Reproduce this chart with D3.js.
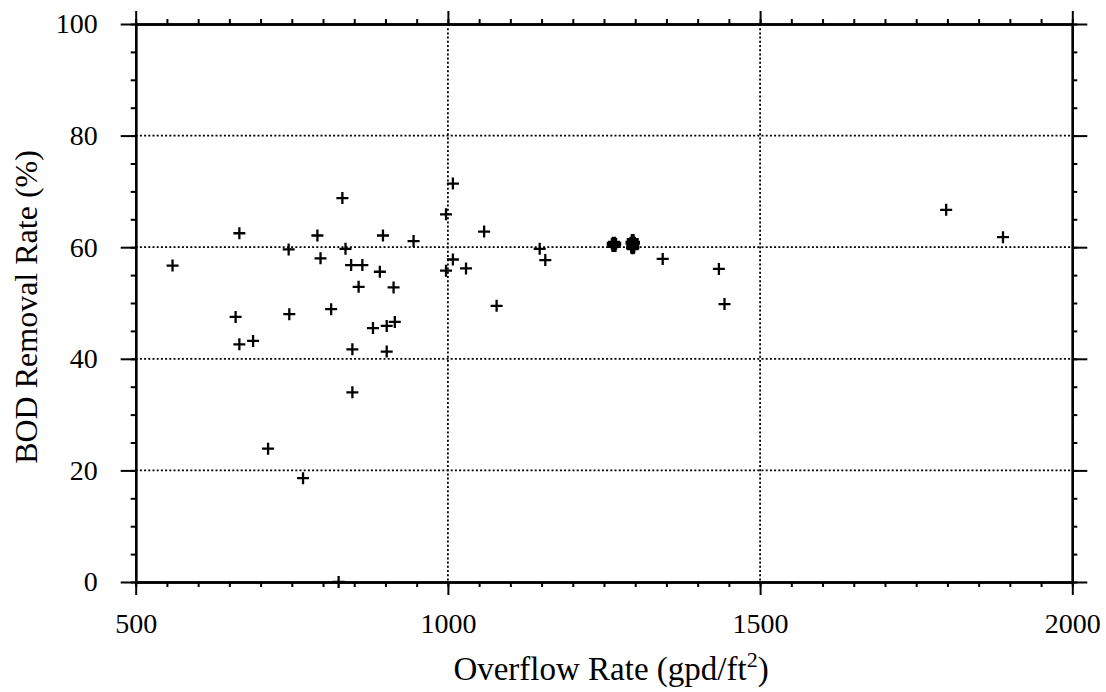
<!DOCTYPE html>
<html>
<head>
<meta charset="utf-8">
<script src="https://cdn.jsdelivr.net/npm/d3@7"></script>
<style>
  html, body { margin: 0; padding: 0; background: #fff; }
  svg { display: block; }
  text { font-family: "Liberation Serif", "Times New Roman", serif; fill: #000; }
</style>
</head>
<body>
<svg id="chart" width="1106" height="692"></svg>
<script>
// ---- data ----
const overflowRate = [559, 660, 666, 666, 688, 712, 745, 746, 768, 791, 796, 813, 825, 831, 836, 845, 847, 847,
  857, 863, 880, 891, 896, 902, 902, 913, 915, 945, 997, 997, 1008, 1008, 1029, 1058, 1078, 1147, 1156,
  1344, 1434, 1443, 1798, 1889];
const bodRemoval = [56.7, 47.5, 62.5, 42.6, 43.2, 23.9, 59.6, 48.0, 18.6, 62.1, 58.0, 48.9, 0, 68.8, 59.7, 56.8, 41.7, 34.0,
  52.9, 56.8, 45.5, 55.6, 62.1, 45.9, 41.3, 52.8, 46.6, 61.1, 65.9, 55.8, 71.4, 57.8, 56.2, 62.8, 49.5, 59.7, 57.7,
  57.9, 56.1, 49.8, 66.7, 61.8];
// dense overlapping observations around 1265 and 1296 gpd/ft2 (appear as solid blobs)
const clusterRate = [1264, 1266, 1268, 1265, 1267, 1266, 1294, 1296, 1298, 1295, 1297, 1296, 1296];
const clusterRemoval = [60.6, 60.8, 60.6, 60.2, 60.2, 60.4, 60.8, 61.3, 60.8, 60.0, 60.0, 59.8, 60.5];
const xMajorTicks = [500, 1000, 1500, 2000];
const yMajorTicks = [0, 20, 40, 60, 80, 100];
const xGrid = [1000, 1500];
const yGrid = [20, 40, 60, 80];
const xTitle = "Overflow Rate (gpd/ft";
const yTitle = "BOD Removal Rate (%)";

// ---- layout ----
const L = 135.7, R = 1072.3, T = 24, B = 582;
const svg = d3.select("#chart");
const x = d3.scaleLinear().domain([500, 2000]).range([L, R]);
const y = d3.scaleLinear().domain([0, 100]).range([B, T]);
const xMinor = d3.range(500, 2001, 50);
const yMinor = d3.range(0, 101, 5);

// gridlines
const g = svg.append("g");
g.selectAll(".gx").data(xGrid).enter().append("line")
  .attr("x1", d => x(d)).attr("x2", d => x(d)).attr("y1", T).attr("y2", B)
  .attr("stroke", "#000").attr("stroke-width", 1.8).attr("stroke-dasharray", "2,2.2");
g.selectAll(".gy").data(yGrid).enter().append("line")
  .attr("x1", L).attr("x2", R).attr("y1", d => y(d)).attr("y2", d => y(d))
  .attr("stroke", "#000").attr("stroke-width", 1.8).attr("stroke-dasharray", "2,2.2");

function styleAxis(sel) {
  sel.selectAll("path.domain").attr("stroke", "#000").attr("stroke-width", 2.4);
  sel.selectAll(".tick line").attr("stroke", "#000").attr("stroke-width", 2);
}

// minor ticks
styleAxis(svg.append("g").attr("transform", `translate(0,${B})`)
  .call(d3.axisBottom(x).tickValues(xMinor).tickSize(5).tickSizeOuter(0).tickFormat("")));
styleAxis(svg.append("g").attr("transform", `translate(0,${T})`)
  .call(d3.axisTop(x).tickValues(xMinor).tickSize(5).tickSizeOuter(0).tickFormat("")));
styleAxis(svg.append("g").attr("transform", `translate(${L},0)`)
  .call(d3.axisLeft(y).tickValues(yMinor).tickSize(5).tickSizeOuter(0).tickFormat("")));
styleAxis(svg.append("g").attr("transform", `translate(${R},0)`)
  .call(d3.axisRight(y).tickValues(yMinor).tickSize(5).tickSizeOuter(0).tickFormat("")));

// major ticks
const xb = svg.append("g").attr("transform", `translate(0,${B})`)
  .call(d3.axisBottom(x).tickValues(xMajorTicks).tickSize(13).tickSizeOuter(0).tickPadding(18).tickFormat(d3.format("d")));
styleAxis(xb);
xb.selectAll("text").attr("font-size", 28).attr("font-family", "Liberation Serif").attr("fill", "#000");
styleAxis(svg.append("g").attr("transform", `translate(0,${T})`)
  .call(d3.axisTop(x).tickValues(xMajorTicks).tickSize(13).tickSizeOuter(0).tickFormat("")));
const yl = svg.append("g").attr("transform", `translate(${L},0)`)
  .call(d3.axisLeft(y).tickValues(yMajorTicks).tickSize(15).tickSizeOuter(0).tickPadding(23).tickFormat(d3.format("d")));
styleAxis(yl);
yl.selectAll("text").attr("font-size", 28).attr("font-family", "Liberation Serif").attr("fill", "#000");
styleAxis(svg.append("g").attr("transform", `translate(${R},0)`)
  .call(d3.axisRight(y).tickValues(yMajorTicks).tickSize(15).tickSizeOuter(0).tickFormat("")));

// data markers
const plus = d => `M${x(d[0]) - 6},${y(d[1])}H${x(d[0]) + 6}M${x(d[0])},${y(d[1]) - 6}V${y(d[1]) + 6}`;
svg.append("g").selectAll("path.pt").data(overflowRate.map((v, i) => [v, bodRemoval[i]]))
  .enter().append("path").attr("d", plus)
  .attr("stroke", "#000").attr("stroke-width", 2.3).attr("fill", "none");
svg.append("g").selectAll("path.cl").data(clusterRate.map((v, i) => [v, clusterRemoval[i]]))
  .enter().append("path").attr("d", plus)
  .attr("stroke", "#000").attr("stroke-width", 4).attr("fill", "none");

// axis titles
const xt = svg.append("text").attr("x", 611).attr("y", 680)
  .attr("text-anchor", "middle").attr("font-size", 33);
xt.append("tspan").text(xTitle);
xt.append("tspan").attr("font-size", 22).attr("dy", -13).text("2");
xt.append("tspan").attr("dy", 13).text(")");

svg.append("text").attr("transform", `translate(37,307) rotate(-90)`)
  .attr("text-anchor", "middle").attr("font-size", 32).text(yTitle);
</script>
</body>
</html>
